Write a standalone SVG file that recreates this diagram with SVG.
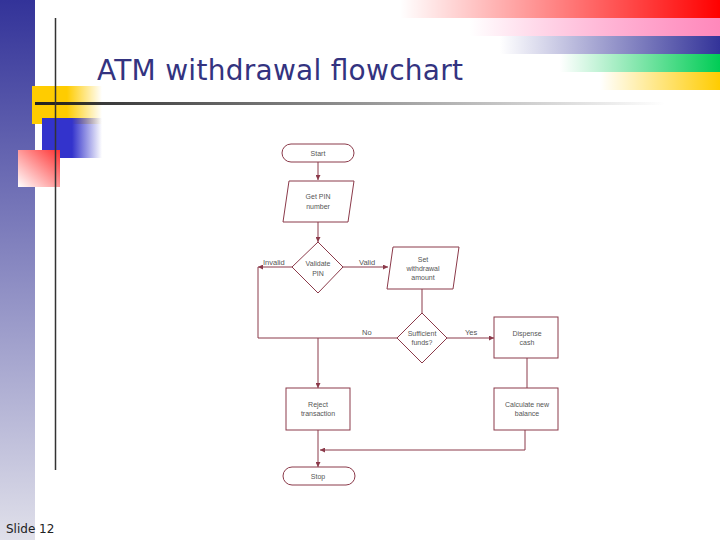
<svg xmlns="http://www.w3.org/2000/svg" width="720" height="540" viewBox="0 0 720 540">
<defs>
<linearGradient id="lb" x1="0" y1="0" x2="0" y2="1"><stop offset="0" stop-color="#333399"/><stop offset="1" stop-color="#e0e0ea"/></linearGradient>
<linearGradient id="rR" x1="0" x2="1"><stop offset="0" stop-color="#ff0000" stop-opacity="0"/><stop offset="1" stop-color="#ff0000"/></linearGradient>
<linearGradient id="rP" x1="0" x2="1"><stop offset="0" stop-color="#ff66aa" stop-opacity="0"/><stop offset="1" stop-color="#ff88bb"/></linearGradient>
<linearGradient id="rN" x1="0" x2="1"><stop offset="0" stop-color="#333399" stop-opacity="0"/><stop offset="1" stop-color="#333399"/></linearGradient>
<linearGradient id="rG" x1="0" x2="1"><stop offset="0" stop-color="#00cc55" stop-opacity="0"/><stop offset="1" stop-color="#00cc55"/></linearGradient>
<linearGradient id="rY" x1="0" x2="1"><stop offset="0" stop-color="#ffcc00" stop-opacity="0"/><stop offset="1" stop-color="#ffcc00"/></linearGradient>
<linearGradient id="sq1" x1="0" x2="1"><stop offset="0.5" stop-color="#ffcc00"/><stop offset="1" stop-color="#ffcc00" stop-opacity="0"/></linearGradient>
<linearGradient id="sq2" x1="0" x2="1"><stop offset="0.5" stop-color="#3333cc"/><stop offset="1" stop-color="#3333cc" stop-opacity="0"/></linearGradient>
<linearGradient id="sq3" x1="1" y1="0" x2="0" y2="1"><stop offset="0" stop-color="#ff3333"/><stop offset="1" stop-color="#ffffff"/></linearGradient>
<linearGradient id="hl" x1="0" x2="1"><stop offset="0" stop-color="#222"/><stop offset="1" stop-color="#222" stop-opacity="0"/></linearGradient>
<marker id="ar" viewBox="0 0 10 10" refX="10" refY="5" markerWidth="5" markerHeight="5" orient="auto"><path d="M0,0L10,5L0,10z" fill="#8b3a4a"/></marker>
<style>
.s{fill:#fff;stroke:#8b3a4a;stroke-width:1}
.c{fill:none;stroke:#8b3a4a;stroke-width:1}
.t{font-family:"Liberation Sans",sans-serif;font-size:7px;fill:#555;text-anchor:middle}
.l{font-family:"Liberation Sans",sans-serif;font-size:7.5px;fill:#555}
</style>
</defs>
<rect width="720" height="540" fill="#fff"/>
<rect x="0" y="0" width="35" height="540" fill="url(#lb)"/>
<rect x="400" y="0" width="320" height="18" fill="url(#rR)"/>
<rect x="470" y="18" width="250" height="18" fill="url(#rP)"/>
<rect x="500" y="36" width="220" height="18" fill="url(#rN)"/>
<rect x="560" y="54" width="160" height="18" fill="url(#rG)"/>
<rect x="600" y="72" width="120" height="18" fill="url(#rY)"/>
<rect x="32" y="86" width="70" height="38" fill="url(#sq1)"/>
<rect x="42" y="118" width="60" height="40" fill="url(#sq2)"/>
<rect x="18" y="150" width="42" height="37" fill="url(#sq3)"/>
<rect x="35" y="102" width="630" height="3" fill="url(#hl)"/>
<line x1="55.5" y1="18" x2="55.5" y2="470" stroke="#333" stroke-width="1.5"/>
<text x="97" y="80" font-family="DejaVu Sans,Verdana,sans-serif" font-size="28" fill="#333380" textLength="366">ATM withdrawal flowchart</text>
<text x="6" y="533" font-family="DejaVu Sans,Verdana,sans-serif" font-size="12" fill="#222">Slide 12</text>
<g id="connectors">
<path class="c" d="M318,162V180" marker-end="url(#ar)"/>
<path class="c" d="M318,222V242" marker-end="url(#ar)"/>
<path class="c" d="M343,267H388" marker-end="url(#ar)"/>
<path class="c" d="M292,267H258" marker-end="url(#ar)"/>
<path class="c" d="M258,267V338H397"/>
<path class="c" d="M422,289V313"/>
<path class="c" d="M447,338H494" marker-end="url(#ar)"/>
<path class="c" d="M318,338V388" marker-end="url(#ar)"/>
<path class="c" d="M527,358V388"/>
<path class="c" d="M525,430V450H320" marker-end="url(#ar)"/>
<path class="c" d="M318,430V467" marker-end="url(#ar)"/>
<text class="l" x="263" y="265">Invalid</text>
<text class="l" x="359" y="265">Valid</text>
<text class="l" x="362" y="335">No</text>
<text class="l" x="465" y="335">Yes</text>
</g>
<g id="start"><rect class="s" x="282" y="144" width="72" height="18" rx="9"/><text class="t" x="318" y="156">Start</text></g>
<g id="getpin"><polygon class="s" points="289,181 354,181 348,222 283,222"/><text class="t" x="318" y="199">Get PIN</text><text class="t" x="318" y="209">number</text></g>
<g id="validate"><polygon class="s" points="318,242 343,267 318,293 292,267"/><text class="t" x="318" y="266">Validate</text><text class="t" x="318" y="276">PIN</text></g>
<g id="setamount"><polygon class="s" points="393,247 459,247 453,289 387,289"/><text class="t" x="423" y="262">Set</text><text class="t" x="423" y="271">withdrawal</text><text class="t" x="423" y="280">amount</text></g>
<g id="sufficient"><polygon class="s" points="422,313 447,338 422,363 397,338"/><text class="t" x="422" y="336">Sufficient</text><text class="t" x="422" y="345">funds?</text></g>
<g id="dispense"><rect class="s" x="494" y="317" width="64" height="41"/><text class="t" x="527" y="336">Dispense</text><text class="t" x="527" y="345">cash</text></g>
<g id="calc"><rect class="s" x="494" y="388" width="64" height="42"/><text class="t" x="527" y="407">Calculate new</text><text class="t" x="527" y="416">balance</text></g>
<g id="reject"><rect class="s" x="286" y="388" width="64" height="42"/><text class="t" x="318" y="407">Reject</text><text class="t" x="318" y="416">transaction</text></g>
<g id="stop"><rect class="s" x="283" y="467" width="72" height="18" rx="9"/><text class="t" x="318" y="479">Stop</text></g>
</svg>
